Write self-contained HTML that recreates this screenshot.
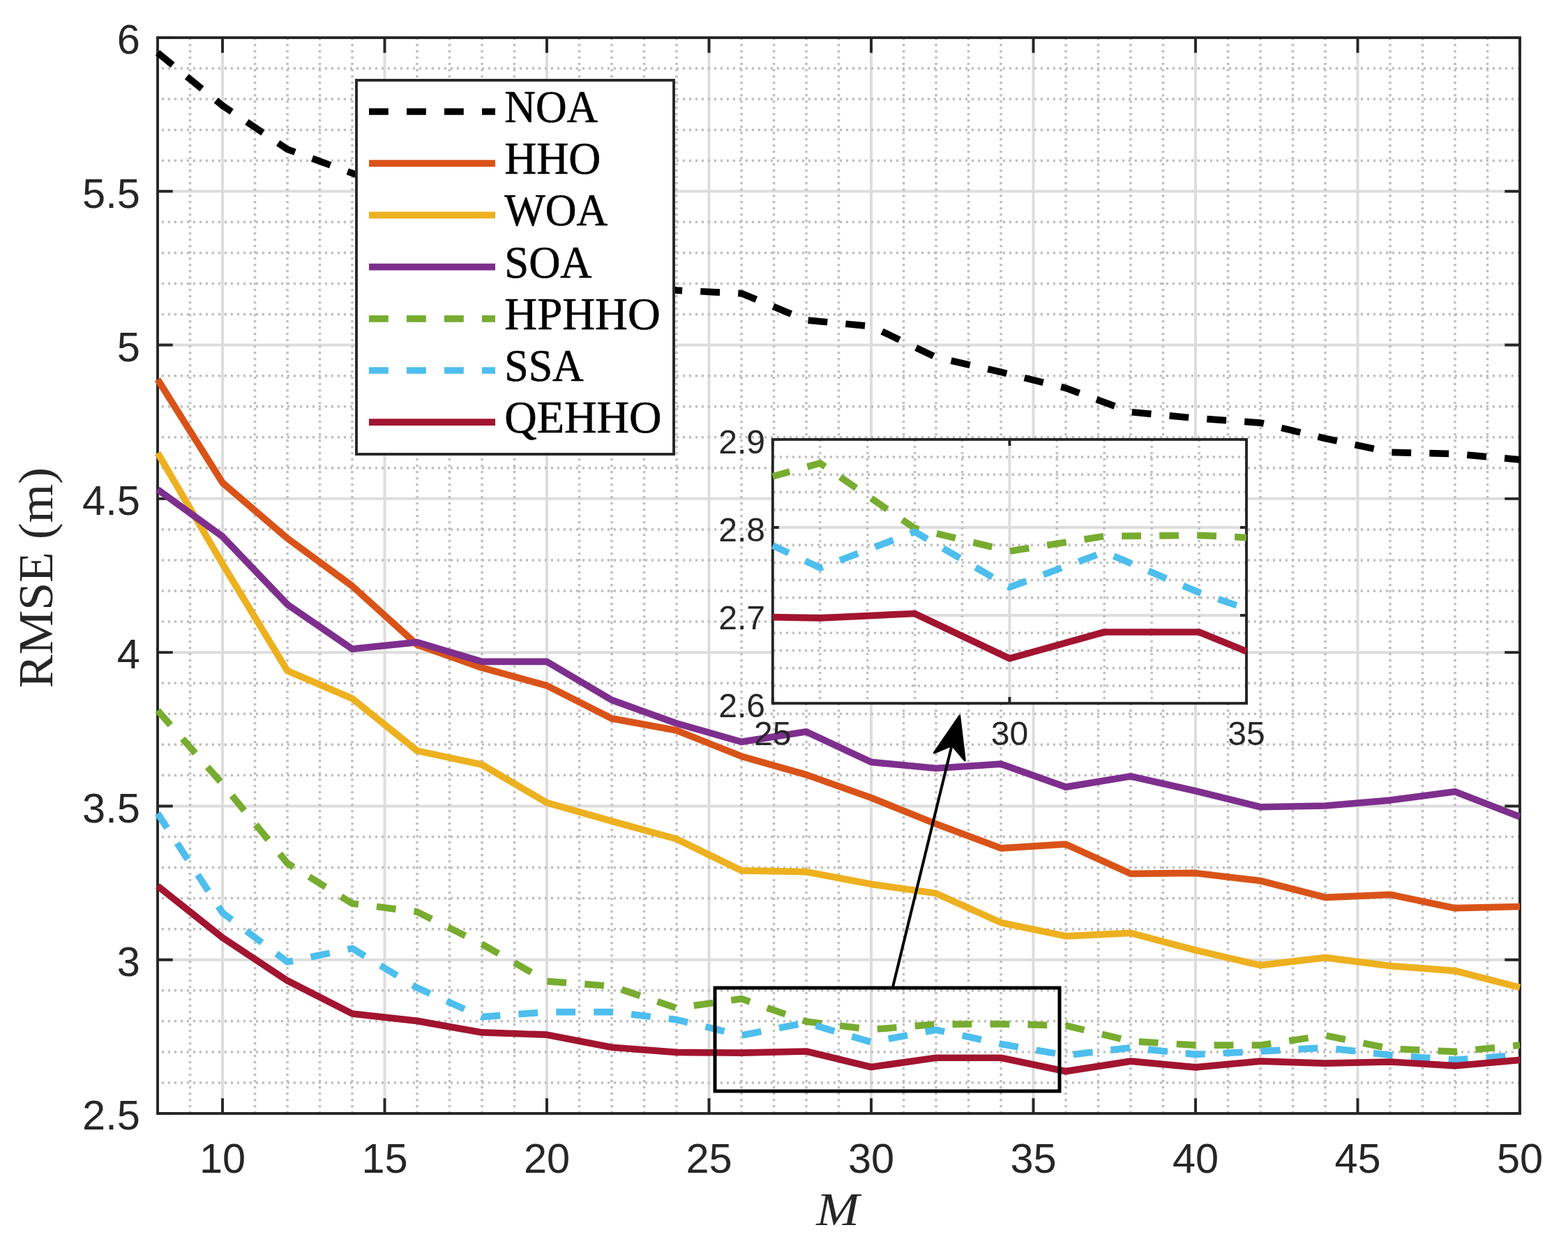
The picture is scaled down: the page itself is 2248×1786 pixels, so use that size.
<!DOCTYPE html>
<html><head><meta charset="utf-8"><title>RMSE vs M</title>
<style>html,body{margin:0;padding:0;background:#fff;}body{width:2248px;height:1786px;overflow:hidden;}svg{display:block;}</style>
</head><body>
<svg width="2248" height="1786" viewBox="0 0 2248 1786">
<rect x="0" y="0" width="2248" height="1786" fill="#fff"/>
<rect x="226" y="54" width="1953" height="1542" fill="#fff"/>
<path d="M319 54V1596M551.5 54V1596M784 54V1596M1016.5 54V1596M1249 54V1596M1481.5 54V1596M1714 54V1596M1946.5 54V1596M226 1375.71H2179M226 1155.43H2179M226 935.14H2179M226 714.86H2179M226 494.57H2179M226 274.29H2179" stroke="#dddddd" stroke-width="4.0" fill="none"/>
<path d="M272.5 54V1596M365.5 54V1596M412 54V1596M458.5 54V1596M505 54V1596M598 54V1596M644.5 54V1596M691 54V1596M737.5 54V1596M830.5 54V1596M877 54V1596M923.5 54V1596M970 54V1596M1063 54V1596M1109.5 54V1596M1156 54V1596M1202.5 54V1596M1295.5 54V1596M1342 54V1596M1388.5 54V1596M1435 54V1596M1528 54V1596M1574.5 54V1596M1621 54V1596M1667.5 54V1596M1760.5 54V1596M1807 54V1596M1853.5 54V1596M1900 54V1596M1993 54V1596M2039.5 54V1596M2086 54V1596M2132.5 54V1596" stroke="#bfbfbf" stroke-width="3.5" stroke-dasharray="3.2 5.8" fill="none"/>
<path d="M2179 1551.94H226M2179 1507.89H226M2179 1463.83H226M2179 1419.77H226M2179 1331.66H226M2179 1287.6H226M2179 1243.54H226M2179 1199.49H226M2179 1111.37H226M2179 1067.31H226M2179 1023.26H226M2179 979.2H226M2179 891.09H226M2179 847.03H226M2179 802.97H226M2179 758.91H226M2179 670.8H226M2179 626.74H226M2179 582.69H226M2179 538.63H226M2179 450.51H226M2179 406.46H226M2179 362.4H226M2179 318.34H226M2179 230.23H226M2179 186.17H226M2179 142.11H226M2179 98.06H226" stroke="#bfbfbf" stroke-width="3.5" stroke-dasharray="3.2 5.8" fill="none"/>
<path d="M319 1596v-21.7M319 54v21.7M551.5 1596v-21.7M551.5 54v21.7M784 1596v-21.7M784 54v21.7M1016.5 1596v-21.7M1016.5 54v21.7M1249 1596v-21.7M1249 54v21.7M1481.5 1596v-21.7M1481.5 54v21.7M1714 1596v-21.7M1714 54v21.7M1946.5 1596v-21.7M1946.5 54v21.7M2179 1596v-21.7M2179 54v21.7M226 1596h21.7M2179 1596h-21.7M226 1375.71h21.7M2179 1375.71h-21.7M226 1155.43h21.7M2179 1155.43h-21.7M226 935.14h21.7M2179 935.14h-21.7M226 714.86h21.7M2179 714.86h-21.7M226 494.57h21.7M2179 494.57h-21.7M226 274.29h21.7M2179 274.29h-21.7M226 54h21.7M2179 54h-21.7" stroke="#262626" stroke-width="3.9" fill="none"/>
<rect x="226" y="54" width="1953" height="1542" fill="none" stroke="#262626" stroke-width="3.9"/>
<g font-family="'Liberation Sans', Arial, Helvetica, sans-serif" font-size="59.5" fill="#262626"><text x="319" y="1680.8" text-anchor="middle">10</text><text x="551.5" y="1680.8" text-anchor="middle">15</text><text x="784" y="1680.8" text-anchor="middle">20</text><text x="1016.5" y="1680.8" text-anchor="middle">25</text><text x="1249" y="1680.8" text-anchor="middle">30</text><text x="1481.5" y="1680.8" text-anchor="middle">35</text><text x="1714" y="1680.8" text-anchor="middle">40</text><text x="1946.5" y="1680.8" text-anchor="middle">45</text><text x="2179" y="1680.8" text-anchor="middle">50</text><text x="200.8" y="1619.3" text-anchor="end">2.5</text><text x="200.8" y="1399.01" text-anchor="end">3</text><text x="200.8" y="1178.73" text-anchor="end">3.5</text><text x="200.8" y="958.44" text-anchor="end">4</text><text x="200.8" y="738.16" text-anchor="end">4.5</text><text x="200.8" y="517.87" text-anchor="end">5</text><text x="200.8" y="297.59" text-anchor="end">5.5</text><text x="200.8" y="77.3" text-anchor="end">6</text></g>
<text transform="translate(1201 1756) scale(1.09 1)" text-anchor="middle" font-family="'Liberation Serif', 'Times New Roman', serif" font-style="italic" font-size="68" fill="#262626">M</text>
<text transform="translate(75 828) rotate(-90) scale(1.023 1)" text-anchor="middle" font-family="'Liberation Serif', 'Times New Roman', serif" font-size="70" fill="#262626">RMSE (m)</text>
<path d="M226 75.59 L319 151.37 L412 213.93 L505 248.29 L598 283.1" stroke="#000000" stroke-width="9.7" fill="none" stroke-linejoin="round" stroke-dasharray="27.8 26.2"/>
<path d="M877 388.83 L970 416.15 L1063 420.56 L1156 458.89 L1249 467.7 L1342 512.19 L1435 533.34 L1528 556.25 L1621 590.62 L1714 599.43 L1807 606.04 L1900 628.51 L1993 648.33 L2086 650.53 L2179 658.9" stroke="#000000" stroke-width="9.7" fill="none" stroke-linejoin="round" stroke-dasharray="27.8 26.2" stroke-dashoffset="30.77"/>
<path d="M226 543.92 L319 691.95 L412 771.69 L505 839.98 L598 924.13 L691 957.17 L784 982.72 L877 1029.87 L970 1047.05 L1063 1084.06 L1156 1110.49 L1249 1143.53 L1342 1180.98 L1435 1215.79 L1528 1210.06 L1621 1252.35 L1714 1251.47 L1807 1262.49 L1900 1286.28 L1993 1282.31 L2086 1301.7 L2179 1299.5" stroke="#D95319" stroke-width="9.7" fill="none" stroke-linejoin="round"/>
<path d="M226 649.21 L319 808.26 L412 961.58 L505 1001.23 L598 1076.13 L691 1095.95 L784 1150.58 L877 1177.02 L970 1202.57 L1063 1247.95 L1156 1249.71 L1249 1267.33 L1342 1280.55 L1435 1322.41 L1528 1341.79 L1621 1337.38 L1714 1362.06 L1807 1383.64 L1900 1372.63 L1993 1384.53 L2086 1391.57 L2179 1415.37" stroke="#EDB120" stroke-width="9.7" fill="none" stroke-linejoin="round"/>
<path d="M226 701.64 L319 769.05 L412 866.41 L505 930.3 L598 920.6 L691 948.36 L784 948.36 L877 1003.43 L970 1036.91 L1063 1063.35 L1156 1048.81 L1249 1092.43 L1342 1101.24 L1435 1095.07 L1528 1128.11 L1621 1112.69 L1714 1133.84 L1807 1156.75 L1900 1154.99 L1993 1147.06 L2086 1134.72 L2179 1170.85" stroke="#7E2F8E" stroke-width="9.7" fill="none" stroke-linejoin="round"/>
<path d="M226 1018.41 L319 1123.71 L412 1237.37 L505 1295.09 L598 1306.99 L691 1353.25 L784 1406.55 L877 1413.6 L970 1444.88 L1063 1431.67 L1156 1464.27 L1249 1475.72 L1342 1468.23 L1435 1467.79 L1528 1470 L1621 1492.47 L1714 1498.19 L1807 1498.19 L1900 1484.09 L1993 1503.04 L2086 1507.45 L2179 1498.19" stroke="#77AC30" stroke-width="9.7" fill="none" stroke-linejoin="round" stroke-dasharray="27.8 26.2"/>
<path d="M226 1166 L319 1308.31 L412 1378.8 L505 1359.41 L598 1415.81 L691 1457.66 L784 1450.61 L877 1450.61 L970 1461.63 L1063 1484.09 L1156 1466.03 L1249 1493.79 L1342 1476.16 L1435 1496.43 L1528 1512.73 L1621 1501.72 L1714 1511.41 L1807 1507 L1900 1501.72 L1993 1512.29 L2086 1519.34 L2179 1512.29" stroke="#4DBEEE" stroke-width="9.7" fill="none" stroke-linejoin="round" stroke-dasharray="27.8 26.2" stroke-dashoffset="3"/>
<path d="M226 1269.98 L319 1343.99 L412 1405.67 L505 1453.03 L598 1463.39 L691 1479.91 L784 1483.21 L877 1501.28 L970 1508.33 L1063 1509.21 L1156 1507 L1249 1529.47 L1342 1516.26 L1435 1516.26 L1528 1535.64 L1621 1521.1 L1714 1529.91 L1807 1521.1 L1900 1524.19 L1993 1521.98 L2086 1527.71 L2179 1519.34" stroke="#A2142F" stroke-width="9.7" fill="none" stroke-linejoin="round"/>
<rect x="1025" y="1416" width="494" height="148" fill="none" stroke="#000" stroke-width="5"/>
<path d="M1279.2 1418 L1365.2 1066" stroke="#000" stroke-width="4" fill="none"/>
<path d="M1375.7 1026 L1383.3 1090 L1364.9 1068.3 L1339.3 1079 Z" fill="#000" stroke="#000" stroke-width="3" stroke-linejoin="round"/>
<rect x="511" y="115" width="455" height="536" fill="#fff" stroke="#262626" stroke-width="3.9"/>
<path d="M529 160H710" stroke="#000000" stroke-width="9.7" stroke-dasharray="27.8 26.2"/><path d="M529 234.2H710" stroke="#D95319" stroke-width="9.7"/><path d="M529 308.4H710" stroke="#EDB120" stroke-width="9.7"/><path d="M529 382.6H710" stroke="#7E2F8E" stroke-width="9.7"/><path d="M529 456.8H710" stroke="#77AC30" stroke-width="9.7" stroke-dasharray="27.8 26.2"/><path d="M529 531H710" stroke="#4DBEEE" stroke-width="9.7" stroke-dasharray="27.8 26.2"/><path d="M529 605.2H710" stroke="#A2142F" stroke-width="9.7"/>
<g font-family="'Liberation Serif', 'Times New Roman', serif" font-size="66" fill="#000" stroke="#000" stroke-width="0.6"><text transform="translate(723.3 175) scale(0.9366 1)">NOA</text><text transform="translate(723.3 249.2) scale(0.9650 1)">HHO</text><text transform="translate(723.3 323.4) scale(0.9396 1)">WOA</text><text transform="translate(723.3 397.6) scale(0.9493 1)">SOA</text><text transform="translate(723.3 471.8) scale(0.9830 1)">HPHHO</text><text transform="translate(723.3 546) scale(0.9366 1)">SSA</text><text transform="translate(723.3 620.2) scale(0.9757 1)">QEHHO</text></g>
<rect x="1107.8" y="629.9" width="679.2" height="378.2" fill="#fff"/>
<path d="M1447.4 629.9V1008.1M1107.8 882.03H1787M1107.8 755.97H1787" stroke="#dddddd" stroke-width="4.0" fill="none"/>
<path d="M1175.72 629.9V1008.1M1243.64 629.9V1008.1M1311.56 629.9V1008.1M1379.48 629.9V1008.1M1515.32 629.9V1008.1M1583.24 629.9V1008.1M1651.16 629.9V1008.1M1719.08 629.9V1008.1M1787 982.89H1107.8M1787 957.67H1107.8M1787 932.46H1107.8M1787 907.25H1107.8M1787 856.82H1107.8M1787 831.61H1107.8M1787 806.39H1107.8M1787 781.18H1107.8M1787 730.75H1107.8M1787 705.54H1107.8M1787 680.33H1107.8M1787 655.11H1107.8" stroke="#bfbfbf" stroke-width="3.5" stroke-dasharray="3.2 5.8" fill="none"/>
<path d="M1107.8 1008.1v-9M1107.8 629.9v9M1447.4 1008.1v-9M1447.4 629.9v9M1787 1008.1v-9M1787 629.9v9M1107.8 1008.1h9M1787 1008.1h-9M1107.8 882.03h9M1787 882.03h-9M1107.8 755.97h9M1787 755.97h-9M1107.8 629.9h9M1787 629.9h-9" stroke="#262626" stroke-width="3.9" fill="none"/>
<rect x="1107.8" y="629.9" width="679.2" height="378.2" fill="none" stroke="#262626" stroke-width="3.9"/>
<path d="M1107.8 682.85 L1175.72 663.94 L1311.56 757.23 L1447.4 790 L1583.24 768.57 L1719.08 767.31 L1787 770.46" stroke="#77AC30" stroke-width="9.7" fill="none" stroke-linejoin="round" stroke-dasharray="27.8 26.2" stroke-dashoffset="2.5"/>
<path d="M1107.8 781.81 L1175.72 813.96 L1311.56 762.27 L1447.4 841.69 L1583.24 791.27 L1719.08 849.26 L1787 872.58" stroke="#4DBEEE" stroke-width="9.7" fill="none" stroke-linejoin="round" stroke-dasharray="27.8 26.2" stroke-dashoffset="2.5"/>
<path d="M1107.8 884.55 L1175.72 885.82 L1311.56 879.51 L1447.4 943.81 L1583.24 905.99 L1719.08 905.99 L1787 933.72" stroke="#A2142F" stroke-width="9.7" fill="none" stroke-linejoin="round"/>
<g font-family="'Liberation Sans', Arial, Helvetica, sans-serif" font-size="48" fill="#262626"><text x="1107.8" y="1068.3" text-anchor="middle">25</text><text x="1447.4" y="1068.3" text-anchor="middle">30</text><text x="1787" y="1068.3" text-anchor="middle">35</text><text x="1097" y="1028.1" text-anchor="end">2.6</text><text x="1097" y="902.03" text-anchor="end">2.7</text><text x="1097" y="775.97" text-anchor="end">2.8</text><text x="1097" y="649.9" text-anchor="end">2.9</text></g>
</svg>
</body></html>
